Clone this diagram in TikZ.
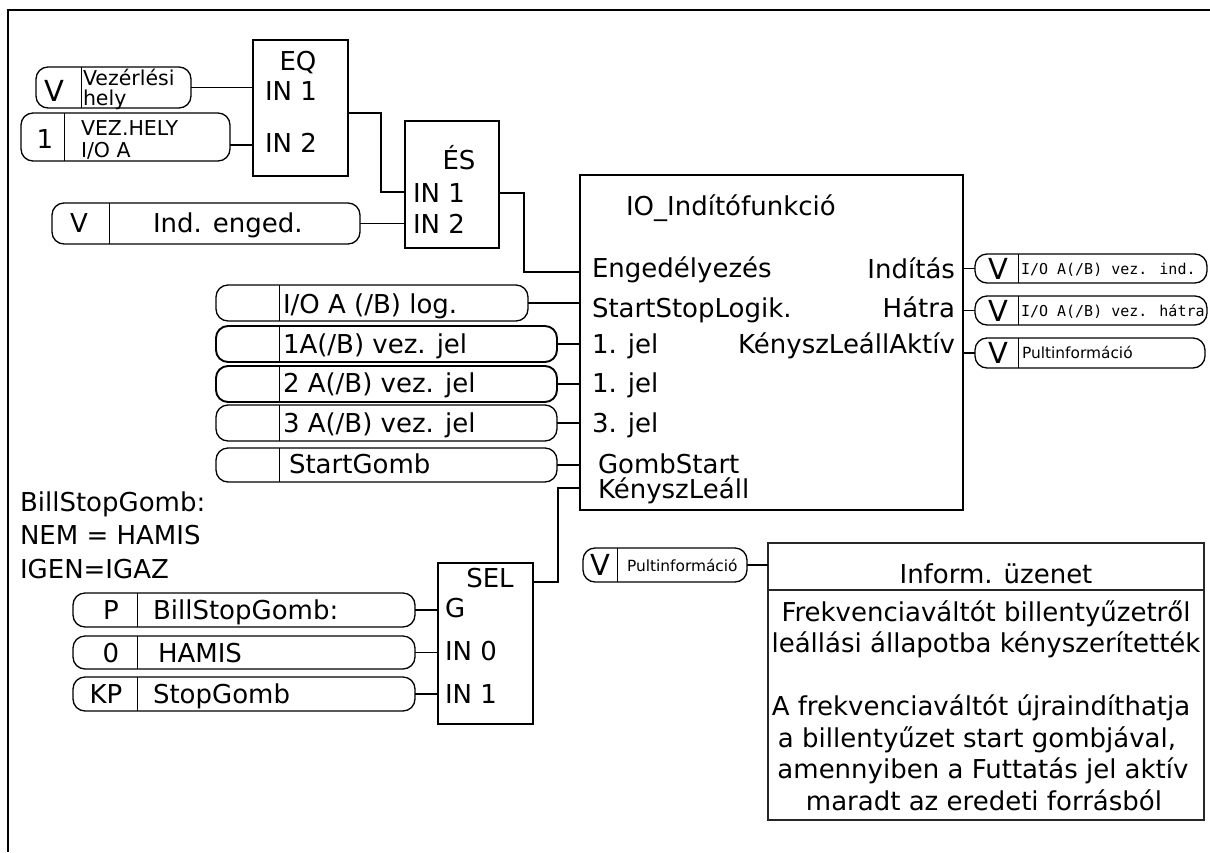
\documentclass[tikz,border=0pt]{standalone}
\usepackage{fontspec}
\setmainfont{DejaVu Sans}
\newfontfamily\dvmono{DejaVu Sans Mono}
\newcommand{\fsz}[1]{\fontsize{#1}{#1}\selectfont}
\newcommand{\rectnode}[6]{%
  \node[#6, minimum width={(#4)-(#2)}, minimum height={(#5)-(#3)}] (#1) at ({((#2)+(#4))/2},{((#3)+(#5))/2}) {};}
\newcommand{\pillnode}[7]{% name x1 y1 x2 y2 divx style
  \rectnode{#1}{#2}{#3}{#4}{#5}{#7}
  \draw[pillline] (#6,#3) -- (#6,#5);}
\begin{document}
\begin{tikzpicture}[x=1pt, y=-1pt,
  blk/.style={draw, line width=1.8pt, inner sep=0, outer sep=0},
  infobox/.style={draw=black!85, line width=1.5pt, inner sep=0, outer sep=0},
  pillbox/.style={draw, rounded corners=12pt, line width=1.3pt, inner sep=0, outer sep=0},
  pillbold/.style={pillbox, line width=1.9pt},
  pillline/.style={line width=1pt},
  wire/.style={line width=1.5pt},
  frame/.style={line width=2pt},
  lbl/.style={inner sep=0, outer sep=0, font=\fsz{26}},
  sm/.style={lbl, font=\fsz{20.5}},
  tiny/.style={lbl, font=\fsz{15.4}},
  tmono/.style={lbl, font=\dvmono\fsz{15}},
  bigv/.style={lbl, font=\fsz{29}}]
\useasboundingbox (0,0) rectangle (1210,852);
\draw[frame] (1210,10) -- (8,10) -- (8,852);

% ---------- EQ ----------
\rectnode{eq}{253}{40}{348}{176}{blk}
\node[lbl, anchor=base] (eqt) at (298,70) {EQ};
\node[lbl, anchor=base west] (eq1) at (265,100) {IN 1};
\node[lbl, anchor=base west] (eq2) at (265,152) {IN 2};

\pillnode{pa}{36}{67}{191}{108}{81}{pillbox}
\node[bigv, anchor=base] (pav) at (54,101) {V};
\node[sm, anchor=base west] (pat1) at (83,85) {Vezérlési};
\node[sm, anchor=base west] (pat2) at (83,105) {hely};

\pillnode{pb}{21}{113}{230}{161}{64}{pillbox}
\node[lbl, anchor=base] (pbv) at (45,148) {1};
\node[sm, anchor=base west] (pbt1) at (81,135) {VEZ.HELY};
\node[sm, anchor=base west] (pbt2) at (81,157) {I/O A};

\coordinate (eq-i2) at (253,145);
\draw[wire] (pa.east) -- (pa.east -| eq.west);
\draw[wire] (pb.east |- eq-i2) -- (eq-i2);

% ---------- ES ----------
\rectnode{es}{405}{121}{499}{248}{blk}
\node[lbl, anchor=base] (est) at (459,169) {ÉS};
\node[lbl, anchor=base west] (es1) at (413,202) {IN 1};
\node[lbl, anchor=base west] (es2) at (413,233) {IN 2};
\coordinate (eq-o) at (348,113);
\coordinate (es-i1) at (405,192);
\draw[wire] (eq-o) -- ++(33,0) |- (es-i1);

\pillnode{pc}{52}{203}{360}{244}{109}{pillbox}
\node[lbl, anchor=base] (pcv) at (79,232) {V};
\node[lbl, anchor=base west] (pct) at (153,232) {Ind. enged.};
\draw[wire] (pc.east) -- (pc.east -| es.west);

% ---------- main block ----------
\rectnode{main}{580}{175}{963}{510}{blk}
\node[lbl, anchor=base west] (mt) at (626,215) {IO\_Indítófunkció};
\node[lbl, anchor=base west] (ml1) at (592,277) {Engedélyezés};
\node[lbl, anchor=base west] (ml2) at (592,317) {StartStopLogik.};
\node[lbl, anchor=base west] (ml3) at (592,353) {1. jel};
\node[lbl, anchor=base west] (ml4) at (592,392) {1. jel};
\node[lbl, anchor=base west] (ml5) at (592,432) {3. jel};
\node[lbl, anchor=base west] (ml6) at (598,473) {GombStart};
\node[lbl, anchor=base west] (ml7) at (598,498) {KényszLeáll};
\node[lbl, anchor=base east] (mr1) at (955,278) {Indítás};
\node[lbl, anchor=base east] (mr2) at (955,317) {Hátra};
\node[lbl, anchor=base east] (mr3) at (955,353) {KényszLeállAktív};

\coordinate (es-o) at (499,193);
\coordinate (m-en) at (580,272);
\draw[wire] (es-o) -- ++(25,0) |- (m-en);

% left input pills
\pillnode{pd}{216}{285}{528}{321}{279}{pillbox}
\node[lbl, anchor=base west] (pdt) at (283,313) {I/O A (/B) log.};
\pillnode{pe}{216}{326}{557}{362}{279}{pillbold}
\node[lbl, anchor=base west] (pet) at (283,353) {1A(/B) vez. jel};
\pillnode{pf}{216}{366}{557}{402}{279}{pillbold}
\node[lbl, anchor=base west] (pft) at (283,392) {2 A(/B) vez. jel};
\pillnode{pg}{216}{405}{557}{441}{279}{pillbox}
\node[lbl, anchor=base west] (pgt) at (283,432) {3 A(/B) vez. jel};
\pillnode{ph}{216}{448}{557}{482}{279}{pillbox}
\node[lbl, anchor=base west] (pht) at (289,473) {StartGomb};
\foreach \p in {pd,pe,pf,pg,ph}
  \draw[wire] (\p.east) -- (\p.east -| main.west);

% right output pills
\pillnode{ra}{975}{254}{1207}{283}{1018}{pillbox}
\node[bigv, anchor=base] (rav) at (998,279) {V};
\node[tmono, anchor=base west] (rat) at (1021,274) {I/O A(/B) vez. ind.};
\pillnode{rb}{975}{296}{1207}{325}{1018}{pillbox}
\node[bigv, anchor=base] (rbv) at (998,321) {V};
\node[tmono, anchor=base west] (rbt) at (1021,316) {I/O A(/B) vez. hátra};
\pillnode{rc}{975}{338}{1205}{368}{1018}{pillbox}
\node[bigv, anchor=base] (rcv) at (998,363) {V};
\node[tiny, anchor=base west] (rct) at (1022,358) {Pultinformáció};
\foreach \p in {ra,rb,rc}
  \draw[wire] (\p.west) -- (\p.west -| main.east);

% ---------- annotation ----------
\node[lbl, anchor=base west] (an1) at (20,511) {BillStopGomb:};
\node[lbl, anchor=base west] (an2) at (20,544) {NEM = HAMIS};
\node[lbl, anchor=base west] (an3) at (20,578) {IGEN=IGAZ};

% ---------- SEL ----------
\rectnode{sel}{438}{563}{533}{724}{blk}
\node[lbl, anchor=base] (selt) at (490,587) {SEL};
\node[lbl, anchor=base west] (sel1) at (445,617) {G};
\node[lbl, anchor=base west] (sel2) at (445,660) {IN 0};
\node[lbl, anchor=base west] (sel3) at (445,703) {IN 1};

\pillnode{pi}{73}{593}{415}{627}{137}{pillbox}
\node[lbl, anchor=base] (piv) at (111,619) {P};
\node[lbl, anchor=base west] (pit) at (153,619) {BillStopGomb:};
\pillnode{pj}{73}{636}{415}{669}{137}{pillbox}
\node[lbl, anchor=base] (pjv) at (111,662) {0};
\node[lbl, anchor=base west] (pjt) at (158,662) {HAMIS};
\pillnode{pk}{73}{677}{415}{711}{137}{pillbox}
\node[lbl, anchor=base] (pkv) at (106,703) {KP};
\node[lbl, anchor=base west] (pkt) at (153,703) {StopGomb};
\foreach \p in {pi,pj,pk}
  \draw[wire] (\p.east) -- (\p.east -| sel.west);

\coordinate (sel-o) at (533,582);
\coordinate (m-kl) at (580,488);
\draw[wire] (sel-o) -- ++(25,0) |- (m-kl);

% ---------- info message ----------
\pillnode{pl}{583}{548}{747}{582}{617}{pillbox}
\node[bigv, anchor=base] (plv) at (600,575) {V};
\node[tiny, anchor=base west] (plt) at (627,571) {Pultinformáció};

\rectnode{ihead}{768}{543}{1204}{590}{infobox}
\rectnode{ibody}{768}{590}{1204}{820}{infobox}
\draw[wire] (pl.east) -- (pl.east -| ihead.west);
\node[lbl, anchor=base] (iht) at (996,583) {Inform. üzenet};
\node[lbl, anchor=base] (ib1) at (986,621) {Frekvenciaváltót billentyűzetről};
\node[lbl, anchor=base] (ib2) at (986,652) {leállási állapotba kényszerítették};
\node[lbl, anchor=base] (ib3) at (981,715) {A frekvenciaváltót újraindíthatja};
\node[lbl, anchor=base] (ib4) at (977,747) {a billentyűzet start gombjával,};
\node[lbl, anchor=base] (ib5) at (983,778) {amennyiben a Futtatás jel aktív};
\node[lbl, anchor=base] (ib6) at (984,810) {maradt az eredeti forrásból};
\end{tikzpicture}
\end{document}
